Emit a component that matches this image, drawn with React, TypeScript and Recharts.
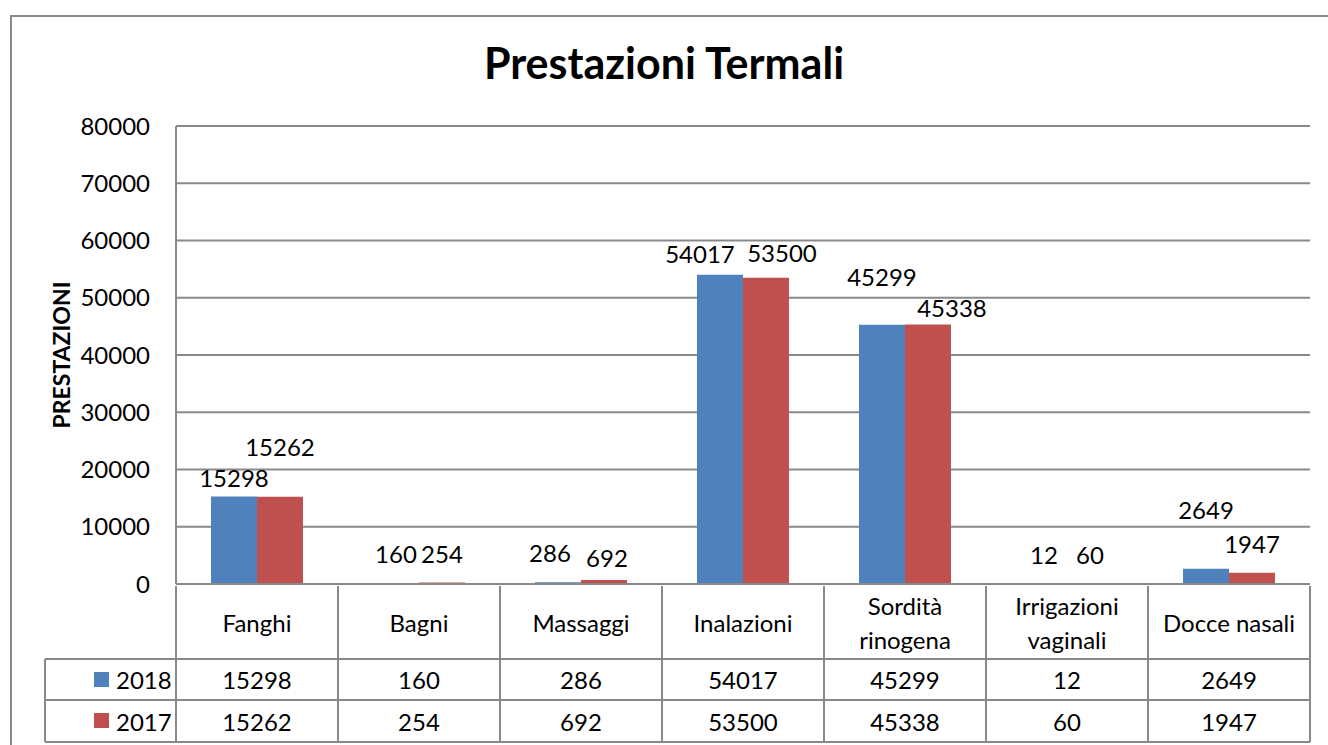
import React from 'react';
import { BarChart, Bar, XAxis, YAxis, CartesianGrid, LabelList } from 'recharts';

const CATEGORIES = ['Fanghi', 'Bagni', 'Massaggi', 'Inalazioni', 'Sordità rinogena', 'Irrigazioni vaginali', 'Docce nasali'];
const VALUES_2018 = [15298, 160, 286, 54017, 45299, 12, 2649];
const VALUES_2017 = [15262, 254, 692, 53500, 45338, 60, 1947];
const Y_TICKS = [0, 10000, 20000, 30000, 40000, 50000, 60000, 70000, 80000];

// labels that were dragged by hand in the original (dx, dy)
const NUDGE_2018 = [[0, 11], [0, 0], [-8, 0], [-20, 8], [0, -19], [0, 0], [0, -30]];
const NUDGE_2017 = [[0, -21], [0, 0], [3, 7], [16, 4], [24, 13], [0, 0], [0, 0]];

const BLUE = '#4F81BD';
const RED = '#C0504D';
const LINE = '#898989';
const FONT = 'Lato, "Noto Sans", sans-serif';
const FS = 24;

const W = 1328;
const H = 745;
const LEFT = 176;
const RIGHT = 18;
const TOP = 126;
const TABLE_H = 161;
const BAND = (W - LEFT - RIGHT) / CATEGORIES.length;

const data = CATEGORIES.map((name, i) => ({ name, y2018: VALUES_2018[i], y2017: VALUES_2017[i] }));

const makeLabel = (nudge: number[][]) => (props: any) => {
  const { x, y, width, value, index } = props;
  const [dx, dy] = nudge[index] || [0, 0];
  return (
    <text x={x + width / 2 + dx} y={y - 20 + dy} textAnchor="middle" fontSize={FS} fontFamily={FONT} fill="#000">
      {value}
    </text>
  );
};

const splitName = (s: string) => (s.length > 13 ? s.split(' ') : [s]);

const TableTick = (props: any) => {
  const { x, y, payload, index } = props;
  const l = x - BAND / 2;
  const r = x + BAND / 2;
  const r1 = y + 73;
  const r2 = y + 114;
  const r3 = y + 156;
  const lines = splitName(payload.value);
  const txt = { textAnchor: 'middle' as const, dominantBaseline: 'central' as const, fontSize: FS, fontFamily: FONT, fill: '#000' };
  return (
    <g>
      <line x1={l} y1={y} x2={l} y2={r3} stroke={LINE} strokeWidth={2} />
      <line x1={r} y1={y} x2={r} y2={r3} stroke={LINE} strokeWidth={2} />
      <line x1={l} y1={r1} x2={r} y2={r1} stroke={LINE} strokeWidth={2} />
      <line x1={l} y1={r2} x2={r} y2={r2} stroke={LINE} strokeWidth={2} />
      <line x1={l} y1={r3} x2={r} y2={r3} stroke={LINE} strokeWidth={2} />
      {lines.length === 1 ? (
        <text x={x} y={y + 36} {...txt}>{lines[0]}</text>
      ) : (
        <>
          <text x={x} y={y + 19} {...txt}>{lines[0]}</text>
          <text x={x} y={y + 53} {...txt}>{lines[1]}</text>
        </>
      )}
      <text x={x} y={y + 93} {...txt}>{VALUES_2018[index]}</text>
      <text x={x} y={y + 135} {...txt}>{VALUES_2017[index]}</text>
      {index === 0 && (
        <g>
          <line x1={45} y1={r1} x2={l} y2={r1} stroke={LINE} strokeWidth={2} />
          <line x1={45} y1={r2} x2={l} y2={r2} stroke={LINE} strokeWidth={2} />
          <line x1={45} y1={r3} x2={l} y2={r3} stroke={LINE} strokeWidth={2} />
          <line x1={45} y1={r1} x2={45} y2={r3} stroke={LINE} strokeWidth={2} />
          <rect x={94} y={r1 + 13} width={15} height={15} fill={BLUE} />
          <rect x={94} y={r2 + 13} width={15} height={15} fill={RED} />
          <text x={116} y={y + 93} {...txt} textAnchor="start">2018</text>
          <text x={116} y={y + 135} {...txt} textAnchor="start">2017</text>
        </g>
      )}
    </g>
  );
};

const YTitle = (props: any) => {
  const { viewBox } = props;
  const cy = viewBox.y + viewBox.height / 2;
  return (
    <text x={61} y={cy} transform={`rotate(-90 61 ${cy})`} textAnchor="middle" dominantBaseline="central"
      fontSize={23} fontWeight="bold" fontFamily={FONT} fill="#000">
      PRESTAZIONI
    </text>
  );
};

export default function App() {
  return (
    <div style={{ position: 'absolute', left: 0, top: 0, width: W, height: H, overflow: 'hidden', background: '#fff' }}>
      <div style={{ position: 'absolute', left: 10, top: 15, width: W + 20, height: H + 20, border: `2px solid ${LINE}` }} />
      <div style={{ position: 'absolute', left: 0, top: 37, width: W, textAlign: 'center', fontFamily: FONT, fontWeight: 'bold', fontSize: 43, color: '#000' }}>
        Prestazioni Termali
      </div>
      <div style={{ position: 'absolute', left: 0, top: 0 }}>
        <BarChart width={W} height={H} data={data} margin={{ top: TOP, right: RIGHT, bottom: 0, left: 0 }}
          barGap={0} barCategoryGap="21.6%">
          <CartesianGrid vertical={false} stroke={LINE} strokeWidth={2} />
          <XAxis dataKey="name" height={TABLE_H} interval={0} tickSize={0} tickLine={false}
            axisLine={{ stroke: LINE, strokeWidth: 2 }} tick={<TableTick />} />
          <YAxis width={LEFT} domain={[0, 80000]} ticks={Y_TICKS} tickLine={false} tickSize={6} tickMargin={20}
            axisLine={{ stroke: LINE, strokeWidth: 2 }} tick={{ fontSize: FS, fontFamily: FONT, fill: '#000' }}
            label={<YTitle />} />
          <Bar dataKey="y2018" fill={BLUE} isAnimationActive={false}>
            <LabelList dataKey="y2018" content={makeLabel(NUDGE_2018)} />
          </Bar>
          <Bar dataKey="y2017" fill={RED} isAnimationActive={false}>
            <LabelList dataKey="y2017" content={makeLabel(NUDGE_2017)} />
          </Bar>
        </BarChart>
      </div>
    </div>
  );
}
